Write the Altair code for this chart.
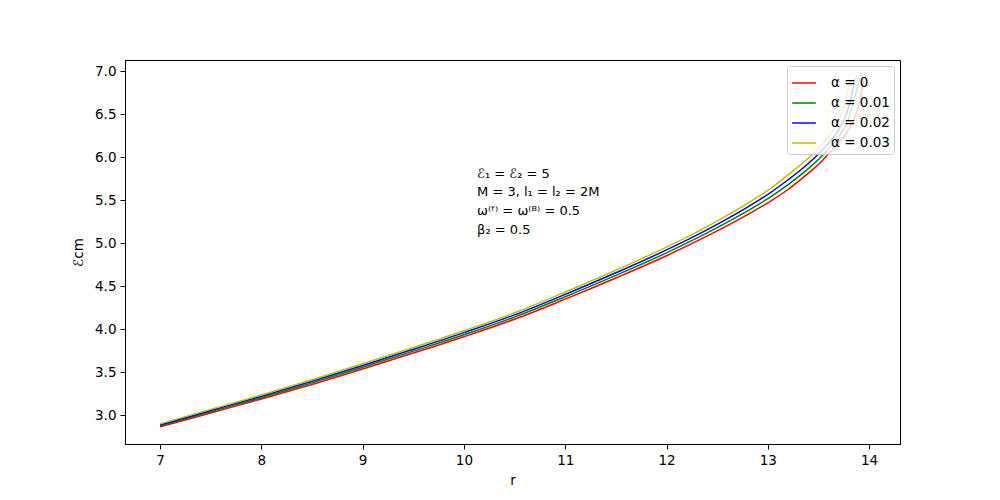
import altair as alt
import pandas as pd

# r grid and E_cm values for each series
r_red = [7.0, 7.5, 8.0, 8.5, 9.0, 9.5, 10.0, 10.5, 11.0, 11.5, 12.0, 12.5, 12.8, 13.0, 13.2, 13.4, 13.5, 13.6, 13.7, 13.8, 13.9, 13.95]
e_red = [2.866, 3.028, 3.19, 3.36, 3.54, 3.725, 3.915, 4.118, 4.352, 4.598, 4.857, 5.145, 5.335, 5.472, 5.627, 5.817, 5.917, 6.042, 6.17, 6.33, 6.62, 6.91]

r_green = [7.0, 7.5, 8.0, 8.5, 9.0, 9.5, 10.0, 10.5, 11.0, 11.5, 12.0, 12.5, 12.8, 13.0, 13.2, 13.4, 13.5, 13.6, 13.7, 13.8, 13.905]
e_green = [2.878, 3.042, 3.206, 3.378, 3.56, 3.747, 3.938, 4.143, 4.38, 4.628, 4.89, 5.183, 5.378, 5.52, 5.684, 5.87, 5.975, 6.10, 6.242, 6.46, 6.91]

r_blue = [7.0, 7.5, 8.0, 8.5, 9.0, 9.5, 10.0, 10.5, 11.0, 11.5, 12.0, 12.5, 12.8, 13.0, 13.2, 13.4, 13.5, 13.6, 13.7, 13.8, 13.86]
e_blue = [2.889, 3.056, 3.222, 3.397, 3.58, 3.768, 3.962, 4.169, 4.407, 4.658, 4.924, 5.222, 5.422, 5.569, 5.74, 5.93, 6.04, 6.165, 6.32, 6.59, 6.91]

r_yellow = [7.0, 7.5, 8.0, 8.5, 9.0, 9.5, 10.0, 10.5, 11.0, 11.5, 12.0, 12.5, 12.8, 13.0, 13.2, 13.4, 13.5, 13.6, 13.7, 13.8, 13.815]
e_yellow = [2.901, 3.07, 3.238, 3.415, 3.60, 3.79, 3.985, 4.194, 4.435, 4.688, 4.957, 5.26, 5.465, 5.617, 5.797, 5.99, 6.10, 6.24, 6.43, 6.82, 6.91]

labels = ["α = 0", "α = 0.01", "α = 0.02", "α = 0.03"]
colors = ["#ff0000", "#008000", "#0000ff", "#bfbf00"]

x_ticks = [7, 8, 9, 10, 11, 12, 13, 14]
y_ticks = [3.0, 3.5, 4.0, 4.5, 5.0, 5.5, 6.0, 6.5, 7.0]

annot_x = [10.13]
annot_y = [5.88]
annot_text = ["ℰ₁ = ℰ₂ = 5\nM = 3, l₁ = l₂ = 2M\nω⁽ᶠ⁾ = ω⁽ᴮ⁾ = 0.5\n β₂ = 0.5"]

rows = []
for lab, rs, es in zip(labels, [r_red, r_green, r_blue, r_yellow], [e_red, e_green, e_blue, e_yellow]):
    for i, (r, e) in enumerate(zip(rs, es)):
        rows.append({"r": r, "E": e, "series": lab, "order": i})
df = pd.DataFrame(rows)

xscale = alt.Scale(domain=[6.654, 14.305], nice=False, zero=False)
yscale = alt.Scale(domain=[2.667, 7.133], nice=False, zero=False)

lines = alt.Chart(df).mark_line(strokeWidth=1.5, interpolate="monotone", clip=True).encode(
    x=alt.X("r:Q", scale=xscale, title="r",
            axis=alt.Axis(values=x_ticks, format="d")),
    y=alt.Y("E:Q", scale=yscale, title="ℰcm",
            axis=alt.Axis(values=y_ticks, format=".1f")),
    color=alt.Color("series:N", sort=labels,
                    scale=alt.Scale(domain=labels, range=colors),
                    legend=alt.Legend(title=None, orient="top-right", offset=6,
                                      symbolType="stroke", symbolStrokeWidth=1.5,
                                      symbolSize=560, labelFontSize=13.5,
                                      labelFont="DejaVu Sans", labelColor="black",
                                      fillColor="rgba(255,255,255,0.8)",
                                      strokeColor="#cccccc", cornerRadius=3,
                                      padding=4, rowPadding=0, labelOffset=14)),
    order="order:Q",
)

annot_df = pd.DataFrame({"x": annot_x, "y": annot_y, "t": annot_text})
annot = alt.Chart(annot_df).mark_text(align="left", baseline="top", fontSize=13,
                                      font="DejaVu Sans", lineBreak="\n",
                                      lineHeight=18.7, color="black").encode(
    x=alt.X("x:Q", scale=xscale), y=alt.Y("y:Q", scale=yscale), text="t:N")

chart = alt.layer(lines, annot).properties(
    width=775, height=384,
    autosize=alt.AutoSizeParams(type="none"),
    padding={"left": 117, "top": 52, "right": 10, "bottom": 50},
).configure_view(stroke="black", strokeWidth=1).configure_axis(
    grid=False, domainColor="black", tickColor="black", tickSize=5,
    labelFontSize=13.5, labelFont="DejaVu Sans", labelColor="black",
    titleFont="DejaVu Sans", titleFontSize=13.5, titleFontWeight="normal",
    titleColor="black", labelPadding=4,
).configure_axisX(titlePadding=7).configure_axisY(titlePadding=9)

chart.save("out.html", embed_options={"renderer": "svg", "actions": False})
